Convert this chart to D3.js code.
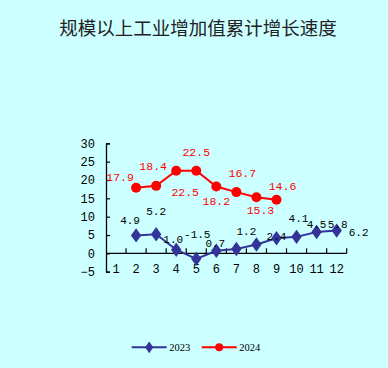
<!DOCTYPE html>
<html><head><meta charset="utf-8">
<script src="https://cdn.jsdelivr.net/npm/d3@7/dist/d3.min.js"></script>
<style>html,body{margin:0;padding:0;background:#CCFFFF;}svg{display:block;}</style>
</head><body>
<script>
const title = "规模以上工业增加值累计增长速度";
const months = [1,2,3,4,5,6,7,8,9,10,11,12];
const yTicks = [-5,0,5,10,15,20,25,30];
const series2023Months = [2,3,4,5,6,7,8,9,10,11,12];
const series2023Values = [4.9,5.2,1.0,-1.5,0.7,1.2,2.4,4.1,4.5,5.8,6.2];
const series2024Months = [2,3,4,5,6,7,8,9];
const series2024Values = [17.9,18.4,22.5,22.5,18.2,16.7,15.3,14.6];
const seriesNames = ["2023","2024"];

// label placement offsets (layout only)
const off2023 = [[-6,-14],[0,-22],[-3,-10],[1,-24],[-1,-7],[10,-17],[20,-8],[22,-19],[20,-12],[21,-7],[22,2]];
const off2024 = [[-16,-10],[-3,-19],[9,22],[0,-18],[0,15],[6,-19],[4,13],[6,-13]];

const W=388,H=368;
const svg=d3.select("body").append("svg").attr("width",W).attr("height",H);
svg.append("rect").attr("width",W).attr("height",H).attr("fill","#CCFFFF");

svg.append("text").attr("x",198).attr("y",35).attr("text-anchor","middle")
  .attr("font-family","'Noto Sans CJK SC'").attr("font-size",18.5).attr("fill","#222")
  .text(title);

const x=d3.scaleBand().domain(months).range([106,346.7]).padding(0);
const y=d3.scaleLinear().domain([-5,30]).range([271.7,143.3]);
const numFont="'Liberation Mono', monospace";

// y axis
const ya=svg.append("g").attr("transform","translate(106,0)")
  .call(d3.axisRight(y).tickValues(yTicks).tickSize(4).tickFormat(d=>d<0?"\u2212"+Math.abs(d):d));
ya.select(".domain").attr("stroke","#000").attr("stroke-width",1.3);
ya.selectAll(".tick line").attr("stroke","#000").attr("stroke-width",1.2);
ya.selectAll(".tick text").attr("x",-11).attr("text-anchor","end").attr("font-family",numFont).attr("font-size",12).attr("fill","#000");

// x axis at zero
const x0=y(0);
svg.append("line").attr("x1",106).attr("x2",346.7).attr("y1",x0).attr("y2",x0).attr("stroke","#000").attr("stroke-width",1.3);
svg.selectAll(".xt").data(months).enter().append("line")
  .attr("x1",d=>x(d)+x.bandwidth()).attr("x2",d=>x(d)+x.bandwidth())
  .attr("y1",x0).attr("y2",x0-5).attr("stroke","#000").attr("stroke-width",1.2);
svg.selectAll(".xl").data(months).enter().append("text")
  .attr("x",d=>x(d)+x.bandwidth()/2).attr("y",270).attr("dominant-baseline","central")
  .attr("text-anchor","middle").attr("font-family",numFont).attr("font-size",12).attr("fill","#000").text(d=>d);

const cx=m=>x(m)+x.bandwidth()/2;
const d23=series2023Months.map((m,i)=>({m,v:series2023Values[i],o:off2023[i]}));
const d24=series2024Months.map((m,i)=>({m,v:series2024Values[i],o:off2024[i]}));
const line=d3.line().x(d=>cx(d.m)).y(d=>y(d.v));
const blue="#333399", red="#FF0000";

svg.append("path").datum(d23).attr("d",line).attr("fill","none").attr("stroke",blue).attr("stroke-width",2);
svg.append("path").datum(d24).attr("d",line).attr("fill","none").attr("stroke",red).attr("stroke-width",2);

const diamond=d3.symbol().type(d3.symbolDiamond).size(60);
svg.selectAll(".p23").data(d23).enter().append("path").attr("d",diamond)
  .attr("transform",d=>`translate(${cx(d.m)},${y(d.v)}) scale(1.25,1)`).attr("fill",blue);
svg.selectAll(".p24").data(d24).enter().append("circle")
  .attr("cx",d=>cx(d.m)).attr("cy",d=>y(d.v)).attr("r",5).attr("fill",red);

svg.selectAll(".l23").data(d23).enter().append("text")
  .attr("x",d=>cx(d.m)+d.o[0]).attr("y",d=>y(d.v)+d.o[1]).attr("dominant-baseline","central")
  .attr("text-anchor","middle").attr("font-family",numFont).attr("font-size",11).attr("fill","#000")
  .text(d=>d.v.toFixed(1));
svg.selectAll(".l24").data(d24).enter().append("text")
  .attr("x",d=>cx(d.m)+d.o[0]).attr("y",d=>y(d.v)+d.o[1]).attr("dominant-baseline","central")
  .attr("text-anchor","middle").attr("font-family",numFont).attr("font-size",11.5).attr("fill",red)
  .text(d=>d.v.toFixed(1));

// legend
const leg=[{name:seriesNames[0],c:blue,x1:131.7,t:"d"},{name:seriesNames[1],c:red,x1:201.7,t:"c"}];
const ly=347.3;
leg.forEach(L=>{
  svg.append("line").attr("x1",L.x1).attr("x2",L.x1+35).attr("y1",ly).attr("y2",ly).attr("stroke",L.c).attr("stroke-width",2);
  if(L.t==="d") svg.append("path").attr("d",d3.symbol().type(d3.symbolDiamond).size(40)).attr("transform",`translate(${L.x1+17.5},${ly}) scale(1.2,1)`).attr("fill",L.c);
  else svg.append("circle").attr("cx",L.x1+17.5).attr("cy",ly).attr("r",4).attr("fill",L.c);
  svg.append("text").attr("x",L.x1+37.5).attr("y",ly).attr("dominant-baseline","central")
    .attr("font-family","'Liberation Serif', serif").attr("font-size",10.5).attr("fill","#000").text(L.name);
});
</script>
</body></html>
